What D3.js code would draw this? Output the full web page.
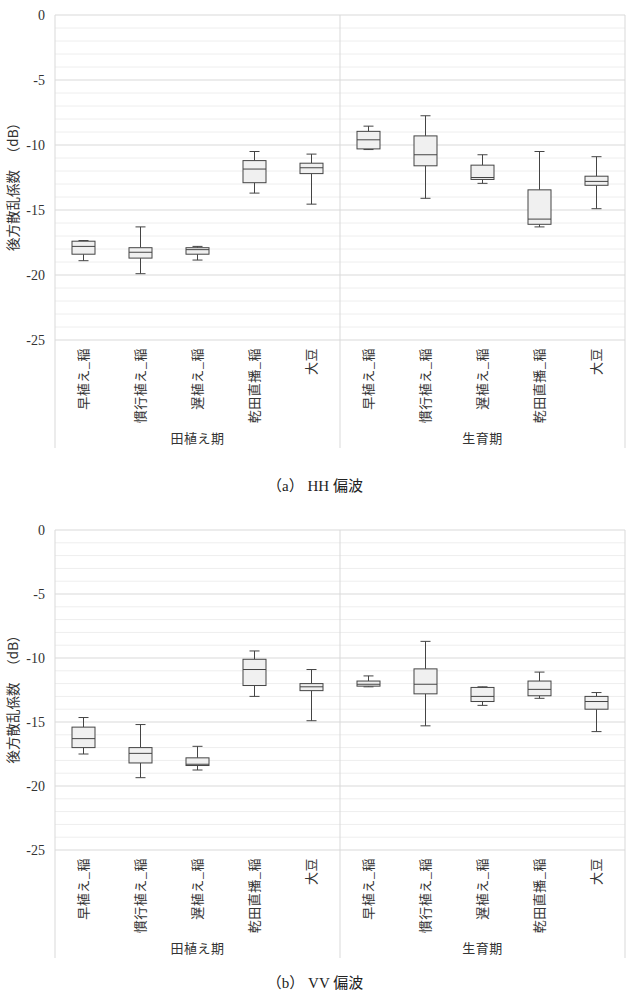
<!DOCTYPE html>
<html>
<head>
<meta charset="utf-8">
<script src="https://cdn.jsdelivr.net/npm/d3@7"></script>
<style>
  body { margin: 0; background: #fff; }
  svg { display: block; }
</style>
</head>
<body>
<div id="chart"></div>
<script>
// categories and groups
const categories = ["早植え_稲", "慣行植え_稲", "遅植え_稲", "乾田直播_稲", "大豆",
                    "早植え_稲", "慣行植え_稲", "遅植え_稲", "乾田直播_稲", "大豆"];
const groups = ["田植え期", "生育期"];
const yTicks = [0, -5, -10, -15, -20, -25];

// HH polarization (dB)
const hhMax = [-17.35, -16.3, -17.8, -10.5, -10.7, -8.55, -7.75, -10.75, -10.5, -10.9];
const hhQ3  = [-17.4, -17.9, -17.9, -11.2, -11.4, -8.95, -9.3, -11.55, -13.45, -12.4];
const hhMed = [-17.8, -18.25, -18.05, -11.85, -11.75, -9.6, -10.75, -12.5, -15.7, -12.8];
const hhQ1  = [-18.4, -18.7, -18.4, -12.9, -12.2, -10.3, -11.6, -12.65, -16.1, -13.1];
const hhMin = [-18.9, -19.9, -18.85, -13.7, -14.55, -10.35, -14.1, -12.95, -16.3, -14.9];

// VV polarization (dB)
const vvMax = [-14.65, -15.2, -16.9, -9.45, -10.9, -11.4, -8.7, -12.25, -11.1, -12.7];
const vvQ3  = [-15.4, -17.0, -17.8, -10.1, -12.0, -11.8, -10.85, -12.3, -11.8, -13.0];
const vvMed = [-16.3, -17.45, -18.3, -10.9, -12.25, -12.05, -12.05, -13.0, -12.45, -13.4];
const vvQ1  = [-17.0, -18.2, -18.4, -12.15, -12.55, -12.2, -12.8, -13.4, -12.95, -14.0];
const vvMin = [-17.5, -19.35, -18.75, -13.0, -14.9, -12.25, -15.3, -13.7, -13.15, -15.75];

const width = 630, height = 999;
const left = 55, right = 625;
const jpFont = "'Noto Sans CJK JP', sans-serif";
const serifFont = "'Liberation Serif', 'DejaVu Serif', 'Noto Sans CJK JP', serif";

const svg = d3.select("#chart").append("svg")
    .attr("width", width)
    .attr("height", height);

const x = d3.scaleBand()
    .domain(d3.range(categories.length))
    .range([left, right])
    .padding(0);

// one panel per polarization
function drawPanel(top, bottom, stats, caption, captionY) {
    const y = d3.scaleLinear().domain([0, -25]).range([top, bottom]);
    const g = svg.append("g");
    const frameBottom = bottom + 108;

    // minor gridlines
    g.selectAll(".minor")
        .data(d3.range(0, -26, -1).filter(v => v % 5 !== 0))
        .enter().append("line")
        .attr("x1", left).attr("x2", right)
        .attr("y1", d => y(d)).attr("y2", d => y(d))
        .attr("stroke", "#eeeeee")
        .attr("stroke-width", 1);

    // major gridlines
    g.selectAll(".major")
        .data(yTicks)
        .enter().append("line")
        .attr("x1", left).attr("x2", right)
        .attr("y1", d => y(d)).attr("y2", d => y(d))
        .attr("stroke", "#d9d9d9")
        .attr("stroke-width", 1);

    // frame verticals (left, group divider, right)
    g.selectAll(".vline")
        .data([left, x(5), right])
        .enter().append("line")
        .attr("x1", d => d).attr("x2", d => d)
        .attr("y1", top).attr("y2", frameBottom)
        .attr("stroke", "#d9d9d9")
        .attr("stroke-width", 1);

    // y tick labels
    g.selectAll(".ytick")
        .data(yTicks)
        .enter().append("text")
        .attr("x", 45)
        .attr("y", d => y(d))
        .attr("dy", "0.35em")
        .attr("text-anchor", "end")
        .style("font-family", serifFont)
        .style("font-size", "14px")
        .attr("fill", "#333")
        .text(d => d === 0 ? "0" : "-" + Math.abs(d));

    // y axis title
    g.append("text")
        .attr("transform", `translate(18,${(top + bottom) / 2 + 6}) rotate(-90)`)
        .attr("text-anchor", "middle")
        .style("font-family", jpFont)
        .style("font-size", "13.5px")
        .attr("fill", "#333")
        .text("後方散乱係数 　（dB）");

    // boxes
    const bw = 23, cap = 10;
    const box = g.selectAll(".box")
        .data(categories.map((c, i) => i))
        .enter().append("g")
        .attr("transform", i => `translate(${x(i) + x.bandwidth() / 2},0)`);

    box.append("line")
        .attr("x1", 0).attr("x2", 0)
        .attr("y1", i => y(stats.max[i])).attr("y2", i => y(stats.q3[i]))
        .attr("stroke", "#444");
    box.append("line")
        .attr("x1", 0).attr("x2", 0)
        .attr("y1", i => y(stats.q1[i])).attr("y2", i => y(stats.min[i]))
        .attr("stroke", "#444");
    box.append("line")
        .attr("x1", -cap / 2).attr("x2", cap / 2)
        .attr("y1", i => y(stats.max[i])).attr("y2", i => y(stats.max[i]))
        .attr("stroke", "#444");
    box.append("line")
        .attr("x1", -cap / 2).attr("x2", cap / 2)
        .attr("y1", i => y(stats.min[i])).attr("y2", i => y(stats.min[i]))
        .attr("stroke", "#444");
    box.append("rect")
        .attr("x", -bw / 2)
        .attr("width", bw)
        .attr("y", i => y(stats.q3[i]))
        .attr("height", i => y(stats.q1[i]) - y(stats.q3[i]))
        .attr("fill", "#f0f0f0")
        .attr("stroke", "#444");
    box.append("line")
        .attr("x1", -bw / 2).attr("x2", bw / 2)
        .attr("y1", i => y(stats.med[i])).attr("y2", i => y(stats.med[i]))
        .attr("stroke", "#444");

    // category labels, rotated to read bottom-up
    g.selectAll(".cat")
        .data(categories)
        .enter().append("text")
        .attr("transform", (d, i) => `translate(${x(i) + x.bandwidth() / 2},${bottom + 8}) rotate(-90)`)
        .attr("dy", "0.35em")
        .attr("text-anchor", "end")
        .style("font-family", jpFont)
        .style("font-size", "13px")
        .style("letter-spacing", "0.5px")
        .attr("fill", "#333")
        .text(d => d);

    // group labels
    g.selectAll(".grp")
        .data(groups)
        .enter().append("text")
        .attr("x", (d, i) => (x(i * 5) + (i === 0 ? x(5) : right)) / 2)
        .attr("y", bottom + 103)
        .attr("text-anchor", "middle")
        .style("font-family", jpFont)
        .style("font-size", "13px")
        .style("letter-spacing", "0.5px")
        .attr("fill", "#333")
        .text(d => d);

    // caption
    svg.append("text")
        .attr("x", 315)
        .attr("y", captionY)
        .attr("text-anchor", "middle")
        .style("font-family", serifFont)
        .style("font-size", "15px")
        .attr("fill", "#222")
        .text(caption);
}

drawPanel(15, 340, { max: hhMax, q3: hhQ3, med: hhMed, q1: hhQ1, min: hhMin }, "（a） HH 偏波", 491);
drawPanel(530, 850, { max: vvMax, q3: vvQ3, med: vvMed, q1: vvQ1, min: vvMin }, "（b） VV 偏波", 988);
</script>
</body>
</html>
